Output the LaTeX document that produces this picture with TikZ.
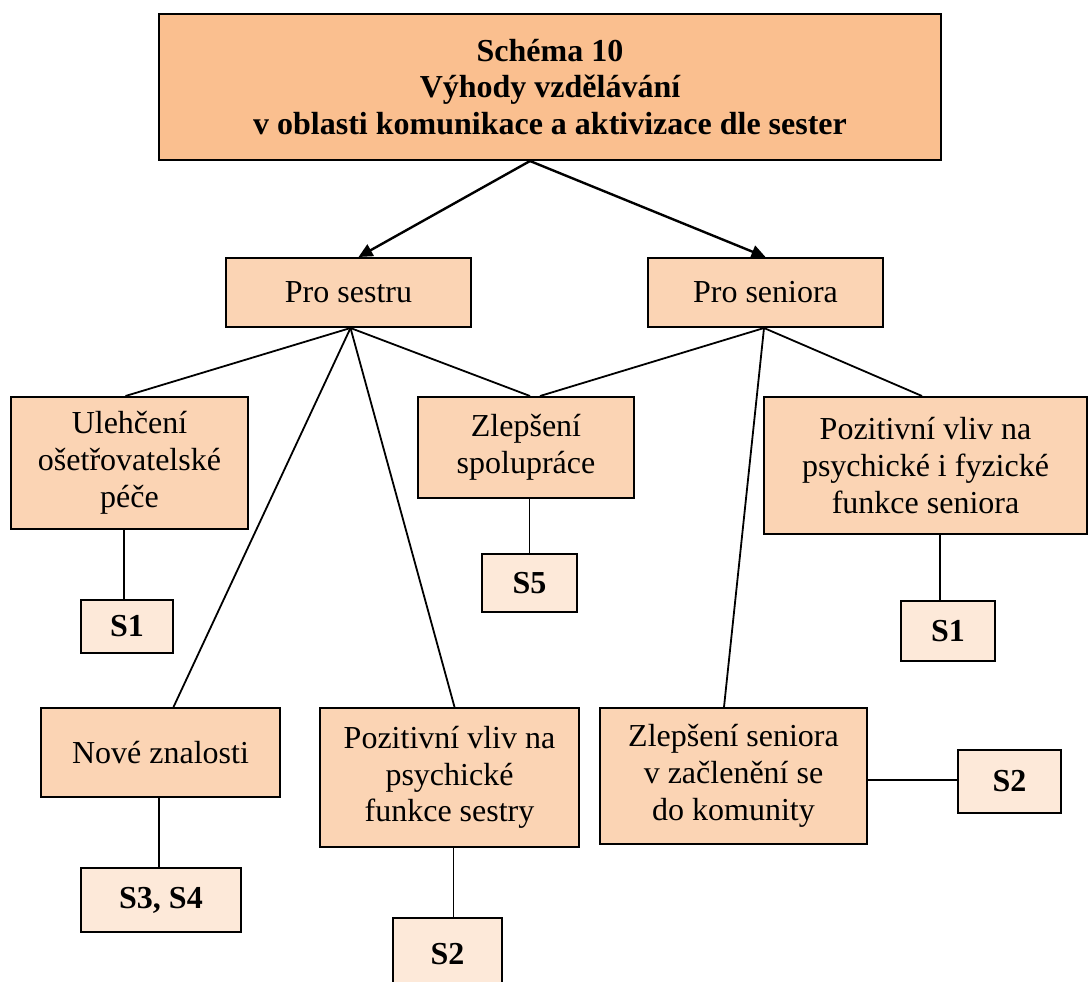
\documentclass[tikz,border=0pt]{standalone}
\usepackage{fontspec}
\setmainfont{Liberation Serif}
\usetikzlibrary{arrows.meta}
\definecolor{headfill}{HTML}{FABF8F}
\definecolor{itemfill}{HTML}{FBD4B4}
\definecolor{reffill}{HTML}{FDE9D9}
\begin{document}
\begin{tikzpicture}[x=0.5pt,y=-0.5pt,
  every node/.style={font=\fontsize{16pt}{18.4pt}\selectfont, align=center, inner sep=0pt},
  box/.style={draw=black, line width=1pt, rectangle},
  headbox/.style={box, fill=headfill, font=\fontsize{16pt}{18.4pt}\selectfont\bfseries},
  itembox/.style={box, fill=itemfill},
  refbox/.style={box, fill=reffill, font=\fontsize{16pt}{18.4pt}\selectfont\bfseries},
  link/.style={draw=black, line width=0.9pt},
  arrowlink/.style={draw=black, line width=1.2pt, -{Triangle[length=7pt,width=6.5pt]}}]
\useasboundingbox (0,0) rectangle (1090,981);

% heading
\node[headbox, minimum width=391pt, minimum height=73pt] (title) at (550,87)
  {Schéma 10\\Výhody vzdělávání\\v oblasti komunikace a aktivizace dle sester};

% two main groups
\node[itembox, minimum width=122.5pt, minimum height=34.5pt] (sestru) at (348.5,292.5) {Pro sestru};
\node[itembox, minimum width=117.5pt, minimum height=34.5pt] (seniora) at (765.5,292.5) {Pro seniora};

% benefits
\node[itembox, minimum width=118.5pt, minimum height=66pt] (ulehceni) at (129.5,463)
  {Ulehčení\\ošetřovatelské\\péče};
\node[itembox, minimum width=108pt, minimum height=50.5pt] (spoluprace) at (526,447.5)
  {Zlepšení\\spolupráce};
\node[itembox, minimum width=161.5pt, minimum height=68.5pt] (pozsen) at (925.5,465.5)
  {Pozitivní vliv na\\psychické i fyzické\\funkce seniora};
\node[itembox, minimum width=119.5pt, minimum height=44.5pt] (nove) at (160.5,752.5)
  {Nové znalosti};
\node[itembox, minimum width=129.5pt, minimum height=69.5pt] (pozses) at (449.5,777.5)
  {Pozitivní vliv na\\psychické\\funkce sestry};
\node[itembox, minimum width=133.5pt, minimum height=68pt] (zlepsen) at (733.5,776)
  {Zlepšení seniora\\v začlenění se\\do komunity};

% sources
\node[refbox, minimum width=46pt, minimum height=26.5pt] (s1a) at (127,626.5) {S1};
\node[refbox, minimum width=47.5pt, minimum height=29pt] (s5) at (529.5,583) {S5};
\node[refbox, minimum width=47pt, minimum height=30pt] (s1b) at (948,631) {S1};
\node[refbox, minimum width=80pt, minimum height=32pt] (s34) at (161,900) {S3, S4};
\node[refbox, minimum width=54.5pt, minimum height=36pt] (s2a) at (447.5,954) {S2};
\node[refbox, minimum width=51.5pt, minimum height=31.5pt] (s2b) at (1009.5,781.5) {S2};

% arrows from the heading
\draw[arrowlink] ([xshift=-10pt]title.south) -- ([xshift=5pt]sestru.north);
\draw[arrowlink] ([xshift=-10pt]title.south) -- (seniora.north);

% group connectors
\coordinate (sa) at ([xshift=1pt]sestru.south);
\draw[link] (sa) -- ([xshift=-2pt]ulehceni.north);
\draw[link] (sa) -- ([xshift=6.5pt]nove.north);
\draw[link] (sa) -- ([xshift=2.5pt]pozses.north);
\draw[link] (sa) -- ([xshift=2pt]spoluprace.north);
\coordinate (sb) at ([xshift=-0.75pt]seniora.south);
\draw[link] (sb) -- ([xshift=7pt]spoluprace.north);
\draw[link] (sb) -- ([xshift=-1.75pt]pozsen.north);
\draw[link] (sb) -- ([xshift=-4.75pt]zlepsen.north);

% source connectors
\draw[link] ([xshift=-1.5pt]s1a.north) -- ([xshift=-1.5pt]s1a.north |- ulehceni.south);
\draw[link] (s5.north) -- (s5.north |- spoluprace.south);
\draw[link] ([xshift=-4pt]s1b.north) -- ([xshift=-4pt]s1b.north |- pozsen.south);
\draw[link] ([xshift=-1pt]s34.north) -- ([xshift=-1pt]s34.north |- nove.south);
\draw[link] ([xshift=3pt]s2a.north) -- ([xshift=3pt]s2a.north |- pozses.south);
\draw[link] ([yshift=0.75pt]s2b.west) -- ([yshift=0.75pt]s2b.west -| zlepsen.east);
\end{tikzpicture}
\end{document}
